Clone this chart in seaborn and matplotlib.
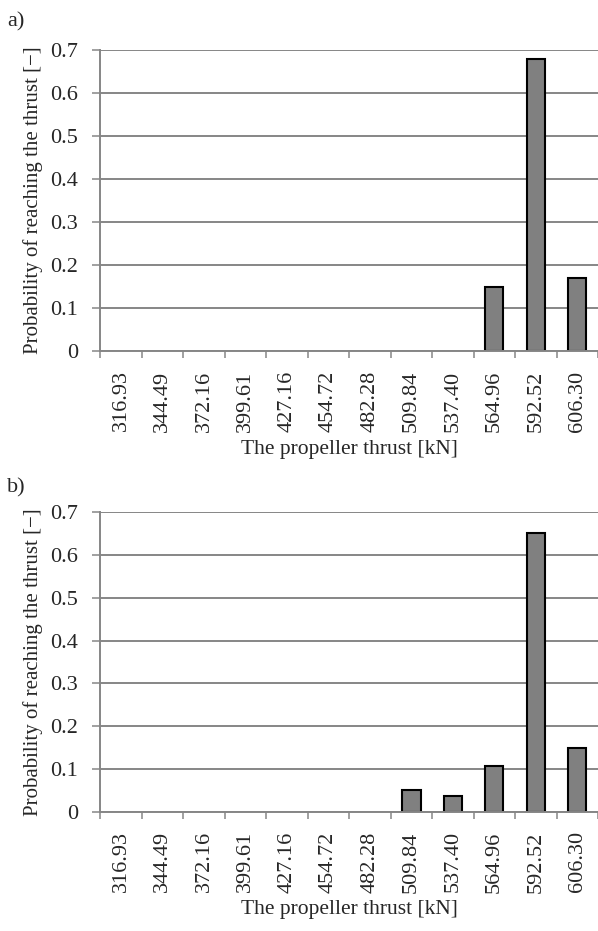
import numpy as np
import pandas as pd
import seaborn as sns
from matplotlib import pyplot as plt

# propeller thrust classes [kN]
thrust = ['316.93', '344.49', '372.16', '399.61', '427.16', '454.72',
          '482.28', '509.84', '537.40', '564.96', '592.52', '606.30']

# probability of reaching the thrust, case a) and case b)
prob_a = [0, 0, 0, 0, 0, 0, 0, 0, 0, 0.15, 0.68, 0.17]
prob_b = [0, 0, 0, 0, 0, 0, 0, 0.05, 0.037, 0.107, 0.65, 0.148]

yticks = [0, 0.1, 0.2, 0.3, 0.4, 0.5, 0.6, 0.7]
ytick_labels = ['0', '0.1', '0.2', '0.3', '0.4', '0.5', '0.6', '0.7']

sns.set_style('white')
plt.rcParams['font.family'] = ['Liberation Serif', 'DejaVu Serif']
plt.rcParams['axes.unicode_minus'] = False

grey = '#868686'

fig = plt.figure(figsize=(5.98, 9.31), dpi=100)
ax_a = fig.add_axes([0.168, 0.623, 0.832, 0.323])
ax_b = fig.add_axes([0.168, 0.128, 0.832, 0.322])

for ax, prob in [(ax_a, prob_a), (ax_b, prob_b)]:
    df = pd.DataFrame({'thrust': thrust, 'prob': prob})
    ax.set_axisbelow(True)
    sns.barplot(x='thrust', y='prob', data=df, ax=ax, color='#808080',
                saturation=1, width=0.44, edgecolor='black', linewidth=1.5)
    # empty classes show no outline
    for p in ax.patches:
        if p.get_height() == 0:
            p.set_linewidth(0)
    ax.set_xlim(-0.5, len(thrust) - 0.5)
    ax.set_ylim(0, 0.7)
    ax.set_yticks(yticks)
    ax.set_yticklabels(ytick_labels, fontsize=16)
    ax.grid(axis='y', color=grey, linewidth=1.4)
    ax.grid(axis='x', visible=False)
    ax.tick_params(axis='y', left=True, length=6, width=1.1, color=grey, pad=10)
    # category labels under bars, tick marks between categories
    ax.set_xticks(range(len(thrust)))
    ax.set_xticklabels(thrust, rotation=90, fontsize=16)
    ax.tick_params(axis='x', which='major', length=0, pad=14)
    ax.set_xticks(np.arange(-0.5, len(thrust)), minor=True)
    ax.tick_params(axis='x', which='minor', bottom=True, length=5, width=1.1, color=grey)
    for side in ['top', 'right']:
        ax.spines[side].set_visible(False)
    for side in ['left', 'bottom']:
        ax.spines[side].set_color(grey)
        ax.spines[side].set_linewidth(1.4)
    ax.set_xlabel('The propeller thrust [kN]', fontsize=15.5)
    ax.set_ylabel('Probability of reaching the thrust [\u2212]', fontsize=15)
    ax.yaxis.set_label_coords(-0.116, 0.5)
    ax.xaxis.set_label_coords(0.5, -0.295)
    ax.xaxis.label.set_va('top')

fig.text(0.012, 1 - 22 / 931, 'a)', fontsize=16, va='center', ha='left')
fig.text(0.012, 1 - 488 / 931, 'b)', fontsize=16, va='center', ha='left')

fig.savefig('out.png', dpi=100)
